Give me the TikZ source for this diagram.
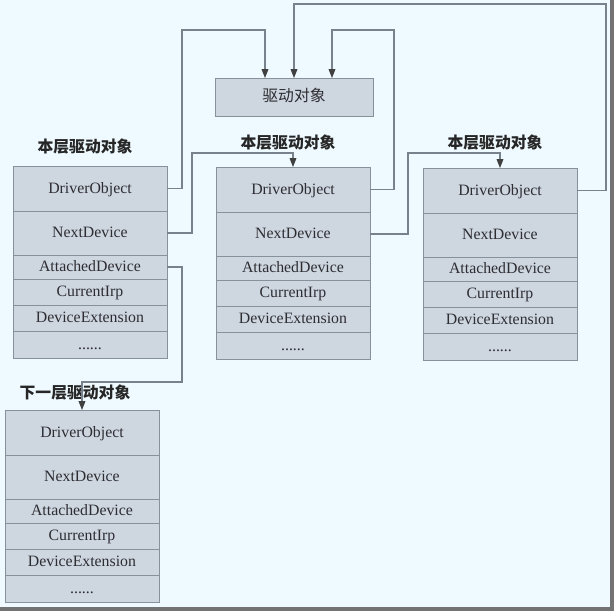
\documentclass[tikz,border=0pt]{standalone}
\usepackage{fontspec}
\setmainfont{Liberation Serif}
\newfontfamily\cjk{Noto Sans CJK SC}
\usepackage{xcolor}
\usetikzlibrary{arrows.meta,positioning}

\definecolor{paper}{RGB}{238,250,255}
\definecolor{cellfill}{RGB}{206,214,224}
\definecolor{cellline}{RGB}{135,145,155}
\definecolor{wirec}{RGB}{120,130,140}
\definecolor{ink}{RGB}{45,45,50}

\begin{document}
\begin{tikzpicture}[
  x=0.02cm, y=-0.02cm,
  font=\fontsize{9}{11}\selectfont,
  cell/.style={rectangle, draw=cellline, fill=cellfill, text=ink,
               minimum width=3.08cm, inner sep=0pt, outer sep=0pt,
               text height=1.6ex, text depth=0.45ex},
  lbl/.style={font=\cjk\fontsize{9}{11}\selectfont\bfseries, text=black!85},
  arr/.style={-{Triangle[length=5pt,width=3.8pt,color=black!75]},
              draw=wirec, line width=0.6pt},
]

%% ---- Page ----
\fill[paper] (0,0) rectangle (614,611);
\fill[black!55] (610,0) rectangle (614,611);
\fill[black!55] (0,607) rectangle (614,611);

%% ---- Device objects ----
\foreach \n/\x/\y in {b1/13/166, b2/216/167, b3/423/168, b4/5/410} {
  \node[cell, minimum height=0.90cm, anchor=north west] (\n-drv) at (\x,\y) {DriverObject};
  \node[cell, minimum height=0.88cm, below=0pt of \n-drv]  (\n-next) {NextDevice};
  \node[cell, minimum height=0.48cm, below=0pt of \n-next] (\n-att)  {AttachedDevice};
  \node[cell, minimum height=0.52cm, below=0pt of \n-att]  (\n-irp)  {CurrentIrp};
  \node[cell, minimum height=0.52cm, below=0pt of \n-irp]  (\n-ext)  {DeviceExtension};
  \node[cell, minimum height=0.54cm, below=0pt of \n-ext]  (\n-dots) {......};
}

%% ---- Driver object ----
\node[cell, minimum width=3.16cm, minimum height=0.76cm,
      font=\cjk\fontsize{9}{11}\selectfont] (drvobj) at (294,97) {驱动对象};
\coordinate (in1) at ([xshift=-0.58cm]drvobj.north);
\coordinate (in3) at ([xshift=0.76cm]drvobj.north);

%% ---- Labels ----
\node[lbl] (lbl1) at (85,147)  {本层驱动对象};
\node[lbl] (lbl2) at (288,143) {本层驱动对象};
\node[lbl] (lbl3) at (495,143) {本层驱动对象};
\node[lbl] (lbl4) at (75,393)  {下一层驱动对象};

%% ---- Arrows ----
\draw[arr] (b1-drv.east)  -| (182,30)  -| (in1);
\draw[arr] (b2-drv.east)  -| (394,30)  -| (in3);
\draw[arr] (b3-drv.east)  -| (606,4)   -| (drvobj.north);
\draw[arr] (b1-next.east) -| (192,153) -| (b2-drv.north);
\draw[arr] (b2-next.east) -| (408,153) -| (b3-drv.north);
\draw[arr] (b1-att.east)  -| (182,382) -| (b4-drv.north);

\end{tikzpicture}
\end{document}
